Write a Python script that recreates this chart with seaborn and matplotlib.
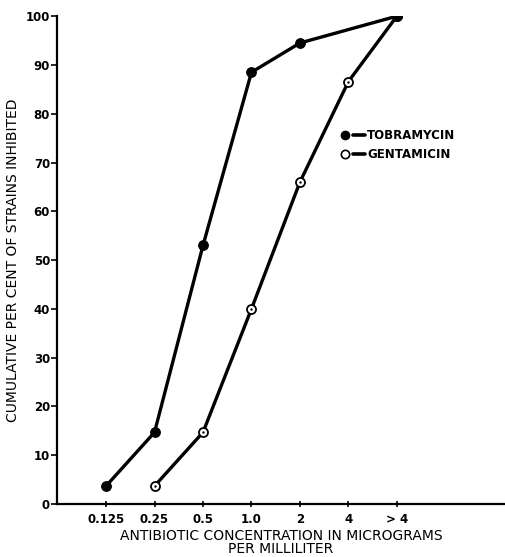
import matplotlib
matplotlib.use("Agg")
import matplotlib.pyplot as plt
import seaborn as sns
import pandas as pd
from matplotlib.lines import Line2D
from matplotlib.legend_handler import HandlerTuple

CONC_LABELS = ["0.125", "0.25", "0.5", "1.0", "2", "4", "> 4"]
TOBRA_POS = [0, 1, 2, 3, 4, 6]
TOBRA_PCT = [3.7, 14.7, 53.0, 88.5, 94.5, 100.0]
GENTA_POS = [1, 2, 3, 4, 5, 6]
GENTA_PCT = [3.7, 14.7, 40.0, 66.0, 86.6, 100.0]

sns.set_style("ticks")
plt.rcParams["font.family"] = ["DejaVu Sans"]
plt.rcParams.update({"text.color": "black", "axes.labelcolor": "black",
                     "xtick.color": "black", "ytick.color": "black",
                     "axes.edgecolor": "black"})

tobra = pd.DataFrame({"pos": TOBRA_POS, "pct": TOBRA_PCT})
genta = pd.DataFrame({"pos": GENTA_POS, "pct": GENTA_PCT})

fig = plt.figure(figsize=(5.05, 5.57), dpi=100)
ax = fig.add_axes([0.113, 0.095, 0.887, 0.876])

sns.lineplot(data=genta, x="pos", y="pct", ax=ax, color="black", linewidth=2.4,
             marker="o", markersize=6.5, markerfacecolor="white",
             markeredgecolor="black", markeredgewidth=1.3, zorder=3)
sns.scatterplot(data=genta, x="pos", y="pct", ax=ax, color="black", s=3,
                linewidth=0, zorder=4)
sns.lineplot(data=tobra, x="pos", y="pct", ax=ax, color="black", linewidth=2.4,
             marker="o", markersize=7, markerfacecolor="black",
             markeredgecolor="black", zorder=5)

ax.set_xlim(-1.01, 8.23)
ax.set_ylim(0, 100)
ax.set_xticks(range(len(CONC_LABELS)))
ax.set_xticklabels(CONC_LABELS, fontsize=8.5, fontweight="bold")
ax.set_yticks(range(0, 101, 10))
ax.set_yticklabels([str(v) for v in range(0, 101, 10)], fontsize=8.5, fontweight="bold")
ax.tick_params(axis="y", direction="out", length=4, width=1.2, pad=1)
ax.tick_params(axis="x", direction="inout", length=5, width=1.2, pad=4)
for s in ["top", "right"]:
    ax.spines[s].set_visible(False)
for s in ["left", "bottom"]:
    ax.spines[s].set_linewidth(1.6)

ax.set_xlabel("ANTIBIOTIC CONCENTRATION IN MICROGRAMS\nPER MILLILITER",
              fontsize=10, linespacing=0.95, labelpad=2)
ax.set_ylabel("CUMULATIVE PER CENT OF STRAINS INHIBITED", fontsize=10, labelpad=4)

# legend handle: marker first, then a short dash
dash = Line2D([0], [0], color="black", lw=2.6)
tobra_mk = Line2D([0], [0], ls="none", marker="o", markersize=6,
                  markerfacecolor="black", markeredgecolor="black")
genta_mk = Line2D([0], [0], ls="none", marker="o", markersize=6,
                  markerfacecolor="white", markeredgecolor="black",
                  markeredgewidth=1.2)
leg = ax.legend([(tobra_mk, dash), (genta_mk, dash)], ["TOBRAMYCIN", "GENTAMICIN"],
                handler_map={tuple: HandlerTuple(ndivide=None, pad=0.2)},
                loc="upper left", bbox_to_anchor=(0.63, 0.768), frameon=False,
                handlelength=2.2, handletextpad=0.15, labelspacing=0.5,
                borderpad=0, borderaxespad=0, prop={"size": 8.5, "weight": "bold"})
leg.set_zorder(10)

fig.savefig("out.png", dpi=100)
